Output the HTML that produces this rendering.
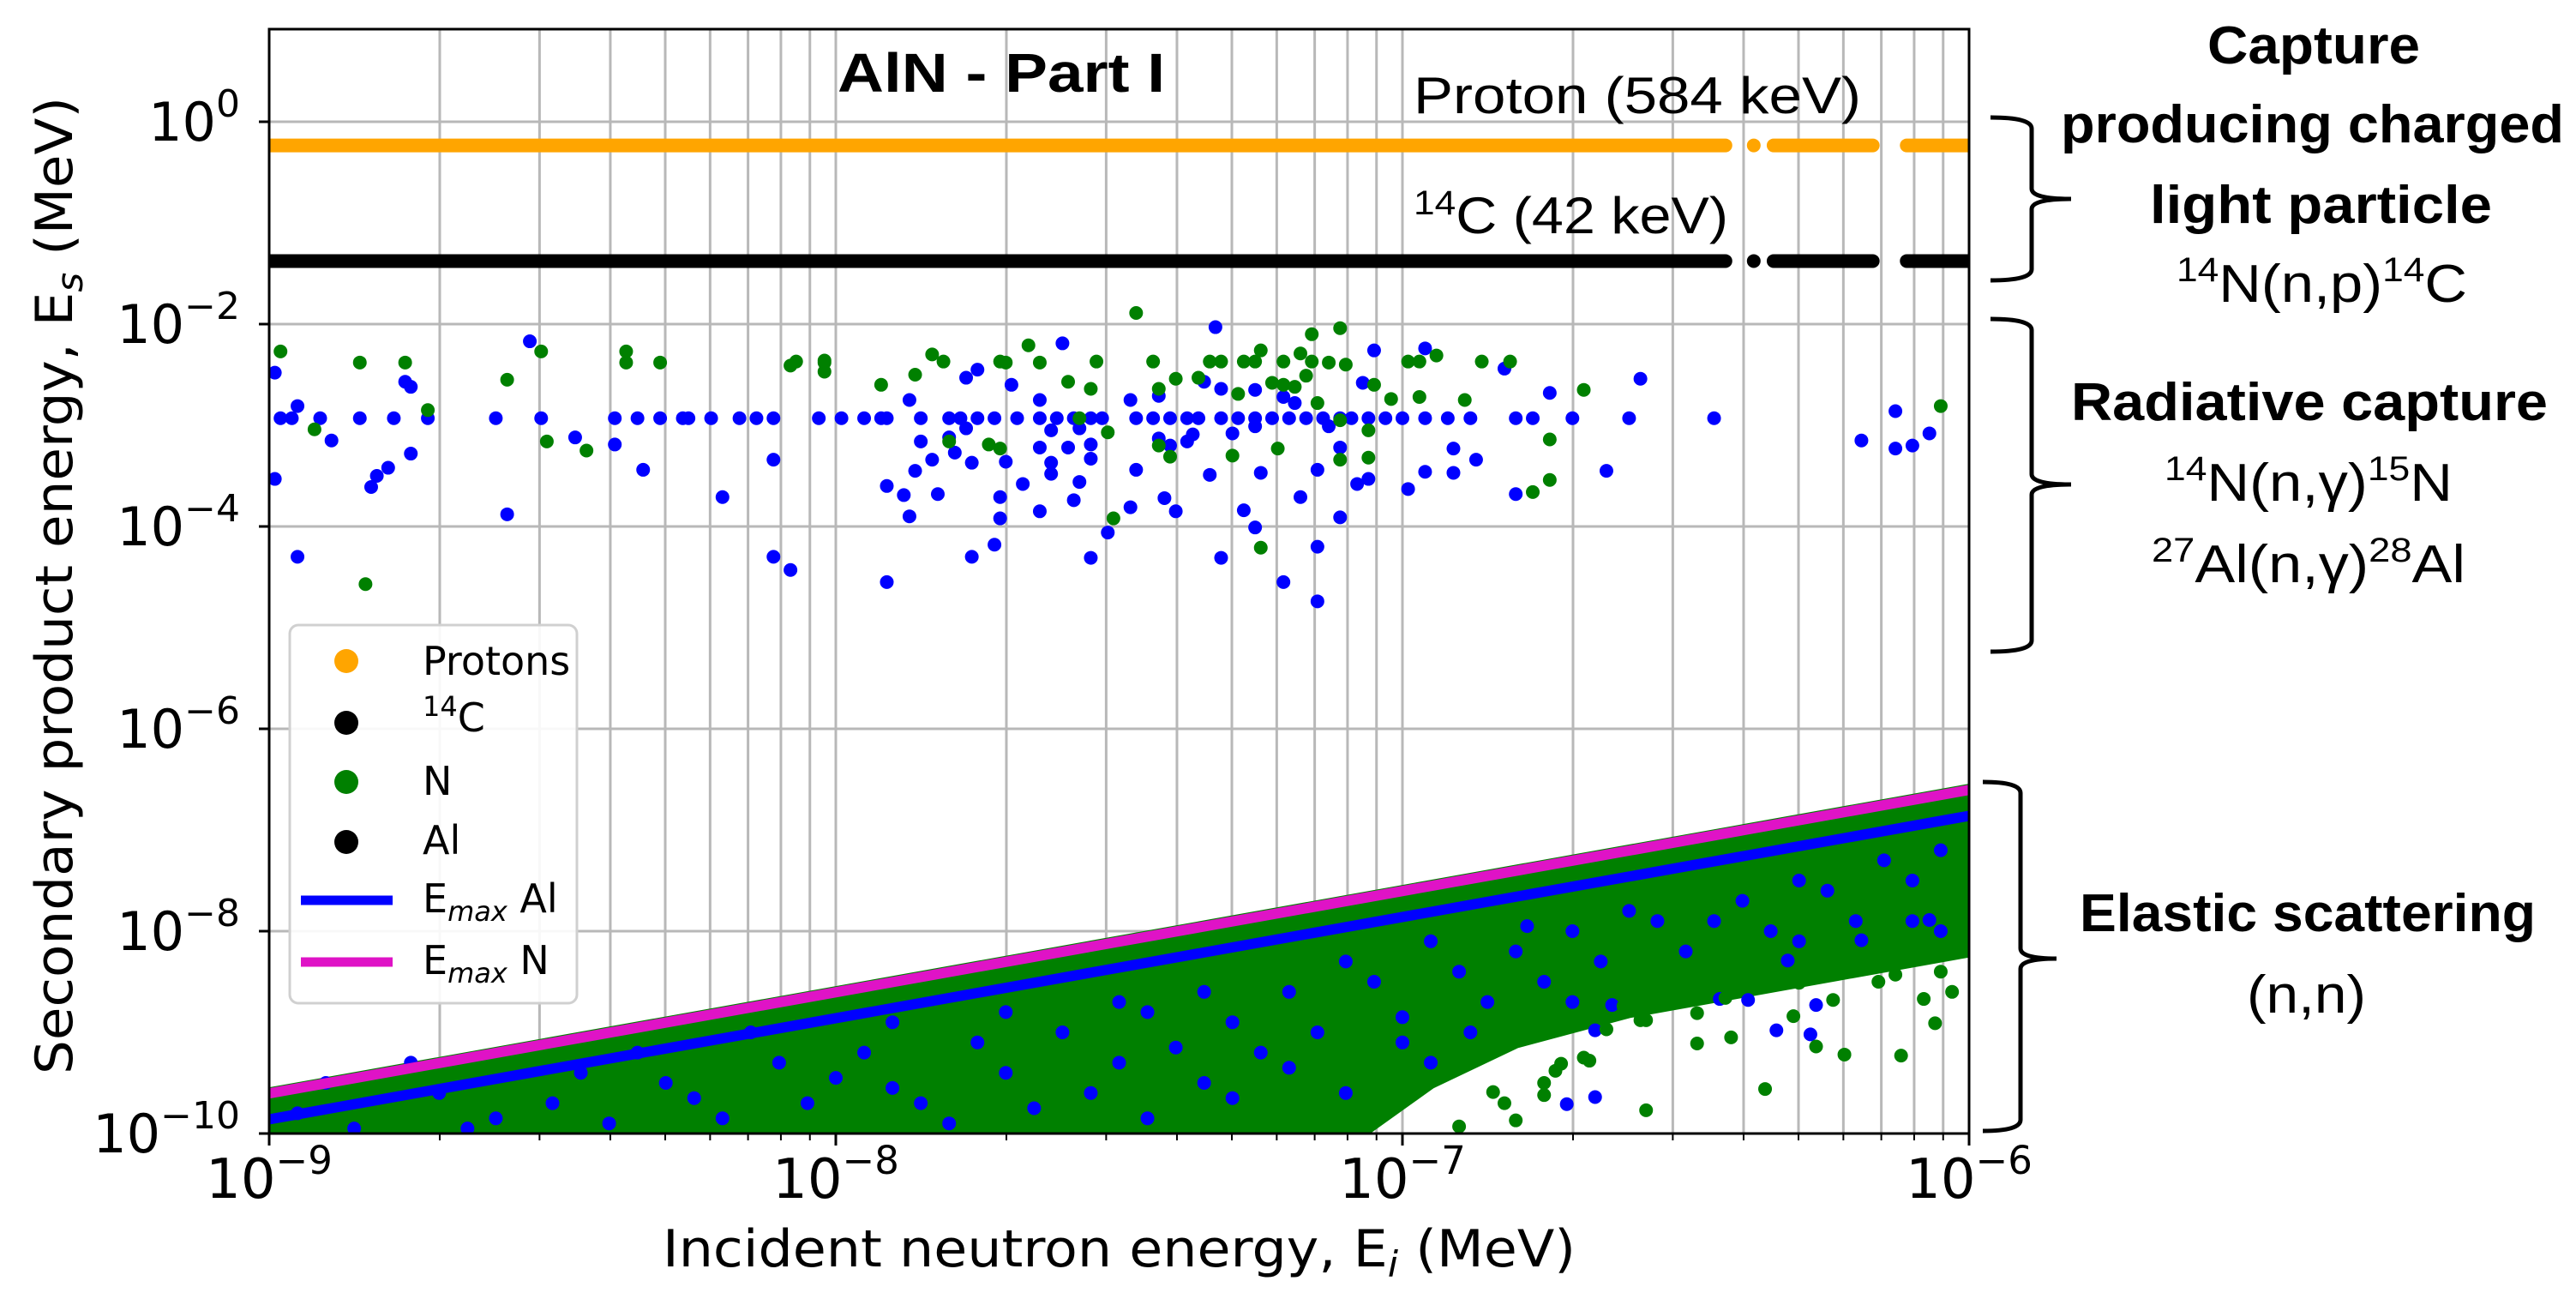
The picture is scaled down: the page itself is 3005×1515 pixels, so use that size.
<!DOCTYPE html>
<html><head><meta charset="utf-8">
<style>
html,body{margin:0;padding:0;background:#fff;}
svg{display:block;}
text{font-family:"DejaVu Sans","Liberation Sans",sans-serif;}
.cal{font-family:"Liberation Sans",sans-serif;}
</style></head>
<body>
<svg id="chart" width="3005" height="1515" viewBox="0 0 3005 1515" xmlns="http://www.w3.org/2000/svg">
<defs><clipPath id="plotclip"><rect x="314" y="34" width="1983" height="1288"/></clipPath></defs>
<rect x="0" y="0" width="3005" height="1515" fill="#fff"/>
<g id="grid"></g>
<g id="marks" clip-path="url(#plotclip)"></g>
<g id="axes"></g>
<g id="legend"></g>
<g id="annot"></g>
</svg>
<script>
// ---- data (log10 MeV) ----
const xDecades = [-9, -8, -7, -6];
const yTickDecades = [0, -2, -4, -6, -8, -10];
const protonLogEs = Math.log10(0.584);
const c14LogEs = Math.log10(0.042);
const captureSegments = [[-9, -6.43], [-6.38, -6.38], [-6.345, -6.17], [-6.11, -6.0]];
const emaxLogEi = [-9, -6];
const emaxNFactor = 0.249;   // 4A/(A+1)^2, A=14
const emaxAlFactor = 0.138;  // A=27
const mixedEnvLogEi = [-9, -7.1, -6.95, -6.8, -6.6, -6.4, -6.2, -6.0];
const mixedEnvLogEs = [-10.1, -10.1, -9.5, -9.1, -8.8, -8.6, -8.4, -8.2];
const rowLogEs = -2.93;
const rowBlueLogEi = [-8.98,-8.96,-8.91,-8.84,-8.78,-8.72,-8.60,-8.52,-8.39,-8.35,-8.31,-8.27,-8.26,-8.22,-8.17,-8.14,-8.11,-8.03,-7.99,-7.95,-7.92,-7.91,-7.85,-7.80,-7.78,-7.75,-7.72,-7.68,-7.64,-7.61,-7.58,-7.55,-7.53,-7.47,-7.44,-7.41,-7.38,-7.36,-7.32,-7.29,-7.26,-7.23,-7.20,-7.17,-7.14,-7.11,-7.09,-7.06,-7.03,-7.00,-6.96,-6.92,-6.88,-6.80,-6.77,-6.70,-6.60,-6.45];
const radAl = [[-8.99,-2.48],[-8.95,-2.81],[-8.89,-3.15],[-8.76,-2.57],[-8.75,-2.62],[-8.75,-3.28],[-8.79,-3.42],[-8.81,-3.50],[-8.82,-3.61],[-8.99,-3.53],[-8.54,-2.17],[-8.46,-3.12],[-8.39,-3.19],[-8.34,-3.44],[-8.11,-3.34],[-8.20,-3.71],[-8.58,-3.88],[-8.95,-4.30],[-8.11,-4.30],[-8.08,-4.43],[-7.91,-4.55],[-7.76,-4.30],[-7.72,-4.18],[-7.55,-4.31],[-7.52,-4.06],[-7.32,-4.31],[-7.21,-4.55],[-7.15,-4.74],[-7.15,-4.20],[-7.26,-4.01],[-7.28,-3.84],[-7.40,-3.85],[-7.42,-3.72],[-7.48,-3.81],[-7.64,-3.85],[-7.58,-3.74],[-7.71,-3.92],[-7.71,-3.71],[-7.67,-3.58],[-7.57,-3.56],[-7.62,-3.48],[-7.62,-3.37],[-7.55,-3.33],[-7.47,-3.44],[-7.34,-3.49],[-7.25,-3.47],[-7.15,-3.44],[-7.08,-3.58],[-7.06,-3.53],[-6.99,-3.63],[-6.96,-3.46],[-6.91,-3.47],[-6.87,-3.34],[-6.91,-3.23],[-6.80,-3.68],[-6.64,-3.45],[-7.11,-3.91],[-7.18,-3.71],[-7.86,-3.45],[-7.83,-3.34],[-7.79,-3.27],[-7.76,-3.37],[-7.70,-3.36],[-7.64,-3.22],[-7.59,-3.22],[-7.55,-3.19],[-7.85,-3.16],[-7.91,-3.60],[-7.88,-3.69],[-7.82,-3.68],[-7.87,-3.90],[-7.87,-2.75],[-7.75,-2.45],[-7.77,-2.53],[-7.69,-2.60],[-7.64,-2.75],[-7.60,-2.19],[-7.48,-2.75],[-7.43,-2.71],[-7.35,-2.57],[-7.32,-2.64],[-7.26,-2.65],[-7.21,-2.72],[-7.19,-2.78],[-7.07,-2.58],[-7.05,-2.26],[-6.96,-2.24],[-6.82,-2.44],[-6.74,-2.68],[-6.58,-2.54],[-6.19,-3.15],[-6.13,-2.86],[-6.13,-3.23],[-6.10,-3.20],[-6.07,-3.08],[-7.33,-2.03],[-7.37,-3.09],[-7.43,-3.13],[-7.41,-3.20],[-7.38,-3.16],[-7.30,-3.08],[-7.26,-3.01],[-7.13,-3.01],[-7.11,-3.22],[-7.77,-3.03],[-7.80,-3.12],[-7.62,-3.05],[-7.57,-3.03]];
const radN = [[-8.98,-2.27],[-8.84,-2.38],[-8.76,-2.38],[-8.72,-2.85],[-8.92,-3.04],[-8.58,-2.55],[-8.52,-2.27],[-8.51,-3.16],[-8.44,-3.25],[-8.37,-2.27],[-8.37,-2.38],[-8.31,-2.38],[-8.08,-2.41],[-8.07,-2.37],[-8.02,-2.36],[-8.02,-2.38],[-8.02,-2.47],[-7.92,-2.60],[-7.86,-2.50],[-7.83,-2.30],[-7.81,-2.37],[-7.71,-2.37],[-7.70,-2.38],[-7.66,-2.21],[-7.64,-2.38],[-7.59,-2.57],[-7.55,-2.64],[-7.54,-2.37],[-7.44,-2.37],[-7.47,-1.89],[-7.43,-2.64],[-7.40,-2.54],[-7.36,-2.53],[-7.34,-2.37],[-7.32,-2.37],[-7.29,-2.69],[-7.28,-2.37],[-7.26,-2.37],[-7.25,-2.26],[-7.21,-2.37],[-7.18,-2.29],[-7.16,-2.10],[-7.11,-2.04],[-7.16,-2.37],[-7.13,-2.38],[-7.10,-2.40],[-7.17,-2.51],[-7.23,-2.58],[-7.21,-2.60],[-7.19,-2.62],[-7.15,-2.78],[-7.05,-2.60],[-7.02,-2.74],[-6.99,-2.37],[-6.97,-2.37],[-6.94,-2.31],[-6.97,-2.72],[-6.89,-2.75],[-6.86,-2.37],[-6.81,-2.37],[-6.68,-2.65],[-6.74,-3.14],[-6.74,-3.54],[-6.77,-3.66],[-7.06,-3.32],[-7.11,-3.34],[-7.22,-3.23],[-7.30,-3.30],[-7.41,-3.31],[-7.43,-3.20],[-7.51,-3.92],[-7.52,-3.07],[-7.73,-3.19],[-7.71,-3.23],[-7.80,-3.16],[-7.25,-4.21],[-8.83,-4.57],[-6.05,-2.81],[-7.06,-3.05],[-7.57,-2.93],[-7.11,-2.95]];
const elasticAlIn = [[-8.95,-9.8],[-8.85,-9.95],[-8.7,-9.6],[-8.6,-9.85],[-8.5,-9.7],[-8.4,-9.9],[-8.3,-9.5],[-8.2,-9.85],[-8.1,-9.3],[-8.05,-9.7],[-7.95,-9.2],[-7.9,-9.55],[-7.8,-9.9],[-7.75,-9.1],[-7.7,-9.4],[-7.6,-9.0],[-7.55,-9.6],[-7.5,-9.3],[-7.45,-8.8],[-7.4,-9.15],[-7.35,-9.5],[-7.3,-8.9],[-7.25,-9.2],[-7.2,-8.6],[-7.15,-9.0],[-7.1,-9.6],[-7.05,-8.5],[-7.0,-8.85],[-6.95,-9.3],[-6.9,-8.4],[-6.85,-8.7],[-6.8,-8.2],[-6.75,-8.5],[-6.7,-8.0],[-6.65,-8.3],[-6.55,-7.9],[-6.5,-8.2],[-6.4,-7.7],[-6.35,-8.0],[-6.25,-7.6],[-6.2,-7.9],[-6.1,-7.5],[-6.05,-7.2],[-6.15,-7.3],
  [-8.9,-9.5],[-8.75,-9.3],[-8.65,-9.95],[-8.45,-9.4],[-8.35,-9.2],[-8.25,-9.65],[-8.15,-9.0],[-8.0,-9.45],[-7.9,-8.9],[-7.85,-9.7],[-7.7,-8.8],[-7.65,-9.75],[-7.5,-8.7],[-7.45,-9.85],[-7.35,-8.6],[-7.3,-9.65],[-7.2,-9.35],[-7.1,-8.3],[-7.0,-9.1],[-6.95,-8.1],[-6.88,-9.0],[-6.78,-7.95],[-6.7,-8.7],[-6.6,-7.8],[-6.45,-7.9],[-6.3,-7.5],[-6.3,-8.1],[-6.1,-7.9],[-6.05,-8.0]];
const elasticNSparse = [[-6.90,-9.93],[-6.82,-9.70],[-6.80,-9.87],[-6.75,-9.62],[-6.72,-9.31],[-6.67,-9.28],[-6.57,-9.77],[-6.48,-8.81],[-6.48,-9.11],[-6.42,-9.05],[-6.36,-9.56],[-6.31,-8.84],[-6.27,-9.14],[-6.22,-9.22],[-6.12,-9.23],[-6.06,-8.91],[-6.08,-8.67],[-6.03,-8.60],[-6.01,-8.18],[-6.16,-8.50],[-6.30,-8.51],[-6.36,-8.51],[-6.51,-8.57],[-6.58,-8.88],[-6.64,-8.97],[-6.68,-9.25],[-6.73,-9.38],[-6.61,-8.74],[-6.43,-8.66],[-6.24,-8.68],[-6.13,-8.43],[-6.05,-8.40],[-6.75,-9.50],[-6.84,-9.59],[-6.57,-8.88]];
const elasticAlSparse = [[-6.66,-9.64],[-6.71,-9.71],[-6.34,-8.98],[-6.28,-9.02],[-6.27,-8.73],[-6.39,-8.68],[-6.44,-8.67],[-6.66,-8.98],[-6.63,-8.73],[-6.19,-8.09],[-6.07,-7.89],[-6.32,-8.29]];

// ---- scales ----
const X0 = 314, X1 = 2297, YT = 34, YB = 1322;
const xs = lx => X0 + (lx + 9) * (X1 - X0) / 3;
const ys = ly => 142 - ly * 118;
const NS = "http://www.w3.org/2000/svg";
function mk(tag, attrs, parent) {
  const e = document.createElementNS(NS, tag);
  for (const k in attrs) e.setAttribute(k, attrs[k]);
  parent.appendChild(e);
  return e;
}
const grid = document.getElementById('grid');
const marks = document.getElementById('marks');
const axes = document.getElementById('axes');

for (let d = -9; d <= -7; d++) {
  for (let k = 1; k <= 9; k++) {
    const x = xs(d + Math.log10(k));
    const l = mk('line', {x1: x, x2: x, y1: YT, y2: YB, stroke: '#b8b8b8', 'stroke-width': 3}, grid);
    
    
  }
}
for (const d of yTickDecades) {
  const y = ys(d);
  const l = mk('line', {x1: X0, x2: X1, y1: y, y2: y, stroke: '#b8b8b8', 'stroke-width': 3}, grid);
  
  
}

function polyPts(arr) { return arr.map(p => xs(p[0]).toFixed(1) + ',' + ys(p[1]).toFixed(1)).join(' '); }
const nTop = emaxLogEi.map(lx => [lx, lx + Math.log10(emaxNFactor)]);
const mixedPts = nTop.concat(mixedEnvLogEi.map((lx, i) => [lx, mixedEnvLogEs[i]]).reverse());
const mixed = mk('polygon', {points: polyPts(mixedPts), fill: '#008000', stroke: '#008000', 'stroke-width': 14, 'stroke-linejoin': 'round'}, marks);



function dots(arr, color, name) {
  for (const p of arr) {
    const c = mk('ellipse', {cx: xs(p[0]), cy: ys(p[1]), rx: 8, ry: 8, fill: color}, marks);
    
    
  }
}
dots(elasticAlIn, '#0000ff', 'elastic-al-point');
dots(elasticAlSparse, '#0000ff', 'elastic-al-point');
dots(elasticNSparse, '#008000', 'elastic-n-point');

function row(logEs, color, name) {
  for (const s of captureSegments) {
    const l = mk('line', {x1: xs(s[0]), x2: xs(s[1]), y1: ys(logEs), y2: ys(logEs), stroke: color, 'stroke-width': 16, 'stroke-linecap': 'round'}, marks);
    
    
  }
}
row(protonLogEs, '#ffa500', 'proton-row');
row(c14LogEs, '#000000', 'c14-row');

for (const lx of rowBlueLogEi) {
  const c = mk('ellipse', {cx: xs(lx), cy: ys(rowLogEs), rx: 8, ry: 8, fill: '#0000ff'}, marks);
  
  
}
dots(radAl, '#0000ff', 'radiative-al-point');
dots(radN, '#008000', 'radiative-n-point');

function emaxLine(f, color, name) {
  const l = mk('line', {x1: xs(emaxLogEi[0]), y1: ys(emaxLogEi[0] + Math.log10(f)), x2: xs(emaxLogEi[1]), y2: ys(emaxLogEi[1] + Math.log10(f)), stroke: color, 'stroke-width': 12}, marks);
  
  
}
emaxLine(emaxAlFactor, '#0000ff', 'emax-al-line');
emaxLine(emaxNFactor, '#df13c6', 'emax-n-line');

const frame = mk('rect', {x: X0, y: YT, width: X1 - X0, height: YB - YT, fill: 'none', stroke: '#000', 'stroke-width': 3}, axes);


for (let d = -9; d <= -7; d++) {
  for (let k = 2; k <= 9; k++) {
    const x = xs(d + Math.log10(k));
    const t = mk('line', {x1: x, x2: x, y1: YB, y2: YB + 8, stroke: '#000', 'stroke-width': 2}, axes);
    
    
  }
}
for (const d of xDecades) {
  const x = xs(d);
  const t = mk('line', {x1: x, x2: x, y1: YB, y2: YB + 14, stroke: '#000', 'stroke-width': 3}, axes);
  
  
  const tx = mk('text', {x: x, y: 1397, 'text-anchor': 'middle', 'font-size': 64, fill: '#000'}, axes);
  
  
  tx.innerHTML = '10<tspan font-size="45" dy="-28">\u2212' + (-d) + '</tspan>';
}
for (const d of yTickDecades) {
  const y = ys(d);
  const t = mk('line', {x1: X0 - 12, x2: X0, y1: y, y2: y, stroke: '#000', 'stroke-width': 3}, axes);
  
  
  const tx = mk('text', {x: 280, y: y + 22, 'text-anchor': 'end', 'font-size': 62, fill: '#000'}, axes);
  
  
  tx.innerHTML = '10<tspan font-size="44" dy="-28">' + (d === 0 ? '0' : '\u2212' + (-d)) + '</tspan>';
}
</script>
<script>
(function(){
  const html = `
<text x="773" y="1477" font-size="60" textLength="1065" lengthAdjust="spacingAndGlyphs">Incident neutron energy, E<tspan font-size="42" dy="12" font-style="italic">i</tspan><tspan dy="-12"> (MeV)</tspan></text>
<text transform="translate(84,1253) rotate(-90)" x="0" y="0" font-size="60" textLength="1140" lengthAdjust="spacingAndGlyphs">Secondary product energy, E<tspan font-size="42" dy="12" font-style="italic">s</tspan><tspan dy="-12"> (MeV)</tspan></text>
<text class="cal" x="977" y="107" font-size="64" font-weight="bold" textLength="382" lengthAdjust="spacingAndGlyphs">AlN - Part I</text>
<text class="cal" x="1649" y="132" font-size="60" textLength="522" lengthAdjust="spacingAndGlyphs">Proton (584 keV)</text>
<text class="cal" x="1649" y="272" font-size="60" textLength="367" lengthAdjust="spacingAndGlyphs"><tspan font-size="40" dy="-22">14</tspan><tspan dy="22">C (42 keV)</tspan></text>

<rect x="338" y="729" width="335" height="441" rx="10" fill="#fff" fill-opacity="0.9" stroke="#d0d0d0" stroke-width="3"/>
<circle cx="404" cy="771" r="14" fill="#ffa500"/>
<text x="493" y="787" font-size="46">Protons</text>
<circle cx="404" cy="843" r="14" fill="#000"/>
<text x="493" y="853" font-size="46"><tspan font-size="32" dy="-18">14</tspan><tspan dy="18">C</tspan></text>
<circle cx="404" cy="912" r="14" fill="#008000"/>
<text x="493" y="927" font-size="46">N</text>
<circle cx="404" cy="982" r="14" fill="#000"/>
<text x="493" y="996" font-size="46">Al</text>
<line x1="351" x2="458" y1="1050" y2="1050" stroke="#0000ff" stroke-width="11"/>
<text x="493" y="1064" font-size="46">E<tspan font-size="32" dy="10" font-style="italic">max</tspan><tspan dy="-10"> Al</tspan></text>
<line x1="351" x2="458" y1="1122" y2="1122" stroke="#df13c6" stroke-width="11"/>
<text x="493" y="1136" font-size="46">E<tspan font-size="32" dy="10" font-style="italic">max</tspan><tspan dy="-10"> N</tspan></text>

<path d="M2322,137 Q2370,137 2370,150 L2370,220 Q2370,232 2416,232 Q2370,232 2370,244 L2370,314 Q2370,327 2322,327" fill="none" stroke="#000" stroke-width="5"/>
<path d="M2322,372 Q2370,372 2370,385 L2370,553 Q2370,565 2416,565 Q2370,565 2370,577 L2370,747 Q2370,760 2322,760" fill="none" stroke="#000" stroke-width="5"/>
<path d="M2313,912 Q2357,912 2357,925 L2357,1106 Q2357,1118 2399,1118 Q2357,1118 2357,1130 L2357,1306 Q2357,1319 2313,1319" fill="none" stroke="#000" stroke-width="5"/>

<text class="cal" x="2575" y="74" font-size="62" font-weight="bold" textLength="248" lengthAdjust="spacingAndGlyphs">Capture</text>
<text class="cal" x="2404" y="166" font-size="62" font-weight="bold" textLength="587" lengthAdjust="spacingAndGlyphs">producing charged</text>
<text class="cal" x="2508" y="260" font-size="62" font-weight="bold" textLength="399" lengthAdjust="spacingAndGlyphs">light particle</text>
<text class="cal" x="2539" y="352" font-size="62" textLength="339" lengthAdjust="spacingAndGlyphs"><tspan font-size="40" dy="-24">14</tspan><tspan dy="24">N(n,p)</tspan><tspan font-size="40" dy="-24">14</tspan><tspan dy="24">C</tspan></text>
<text class="cal" x="2416" y="490" font-size="62" font-weight="bold" textLength="556" lengthAdjust="spacingAndGlyphs">Radiative capture</text>
<text class="cal" x="2525" y="584" font-size="62" textLength="336" lengthAdjust="spacingAndGlyphs"><tspan font-size="40" dy="-24">14</tspan><tspan dy="24">N(n,γ)</tspan><tspan font-size="40" dy="-24">15</tspan><tspan dy="24">N</tspan></text>
<text class="cal" x="2510" y="679" font-size="62" textLength="366" lengthAdjust="spacingAndGlyphs"><tspan font-size="40" dy="-24">27</tspan><tspan dy="24">Al(n,γ)</tspan><tspan font-size="40" dy="-24">28</tspan><tspan dy="24">Al</tspan></text>
<text class="cal" x="2426" y="1086" font-size="62" font-weight="bold" textLength="532" lengthAdjust="spacingAndGlyphs">Elastic scattering</text>
<text class="cal" x="2621" y="1181" font-size="62" textLength="139" lengthAdjust="spacingAndGlyphs">(n,n)</text>
`;
  document.getElementById('annot').insertAdjacentHTML('beforeend', html);
})();
</script>
</body></html>
